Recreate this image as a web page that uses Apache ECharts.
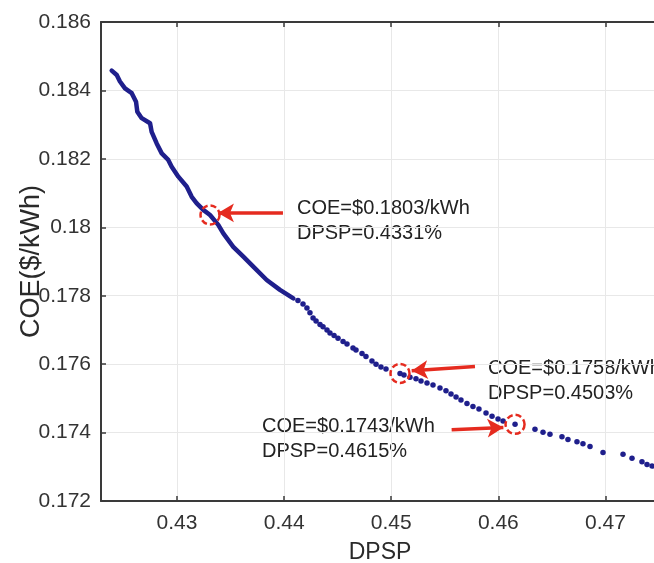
<!DOCTYPE html>
<html>
<head>
<meta charset="utf-8">
<script src="https://cdn.jsdelivr.net/npm/echarts@6/dist/echarts.min.js"></script>
<style>html,body{margin:0;padding:0;background:#fff}#c{width:654px;height:563px}</style>
</head>
<body>
<div id="c"></div>
<script>
// Dense (continuous-looking) part of the Pareto front
var denseDpsp = [0.42390,0.42437,0.42467,0.42514,0.42577,0.42617,0.42629,0.42670,0.42748,0.42763,0.42810,0.42857,0.42918,0.42950,0.43012,0.43090,0.43137,0.43184,0.43245,0.43308,0.43385,0.43432,0.43525,0.43619,0.43712,0.43837,0.43961,0.44086];
var denseCoe  = [0.18458,0.18445,0.18426,0.18406,0.18392,0.18367,0.18338,0.18319,0.18304,0.18279,0.18245,0.18216,0.18197,0.18177,0.18148,0.18119,0.18089,0.18070,0.18051,0.18036,0.18007,0.17982,0.17943,0.17914,0.17885,0.17846,0.17817,0.17792];
// Sparser dotted part
var dotDpsp = [0.44129,0.44176,0.44213,0.44241,0.44270,0.44298,0.44335,0.44363,0.44400,0.44428,0.44466,0.44503,0.44550,0.44587,0.44643,0.44671,0.44727,0.44764,0.44820,0.44858,0.44904,0.44951,0.45082,0.45119,0.45175,0.45231,0.45278,0.45334,0.45390,0.45455,0.45511,0.45558,0.45605,0.45651,0.45707,0.45763,0.45819,0.45885,0.45941,0.45997,0.46044,0.46156,0.46342,0.46417,0.46482,0.46594,0.46650,0.46734,0.46790,0.46856,0.46977,0.47164,0.47248,0.47341,0.47388,0.47435];
var dotCoe  = [0.17786,0.17776,0.17764,0.17750,0.17735,0.17726,0.17716,0.17709,0.17700,0.17691,0.17684,0.17676,0.17666,0.17659,0.17647,0.17641,0.17631,0.17622,0.17609,0.17600,0.17592,0.17586,0.17573,0.17568,0.17562,0.17557,0.17551,0.17545,0.17539,0.17530,0.17522,0.17513,0.17504,0.17495,0.17485,0.17476,0.17469,0.17457,0.17448,0.17440,0.17434,0.17424,0.17410,0.17401,0.17395,0.17388,0.17380,0.17373,0.17367,0.17359,0.17342,0.17337,0.17325,0.17315,0.17307,0.17302];
// Highlighted solutions
var markDpsp = [0.43308, 0.45082, 0.46156];
var markCoe  = [0.18036, 0.17573, 0.17424];
var markLabels = ['COE=$0.1803/kWh\nDPSP=0.4331%', 'COE=$0.1758/kWh\nDPSP=0.4503%', 'COE=$0.1743/kWh\nDPSP=0.4615%'];
// Arrows: tail and head points
var arrowTail = [[0.43989,0.18042],[0.45782,0.17593],[0.45564,0.17408]];
var arrowHead = [[0.43382,0.18042],[0.45191,0.17581],[0.46047,0.17415]];
var yTicks = [0.172,0.174,0.176,0.178,0.18,0.182,0.184,0.186];

var navy = '#1f1f8c', red = '#e52b1f';
var font = 'Liberation Sans, Arial, Helvetica, sans-serif';

var chart = echarts.init(document.getElementById('c'), null, {renderer:'canvas'});
var xCommon = {
  type:'value', min:0.4229, max:0.475,
  axisLine:{show:true, onZero:false, lineStyle:{color:'#3a3a3a', width:2}},
  axisTick:{show:true, inside:true, length:5, lineStyle:{color:'#3a3a3a', width:1.5}}
};
chart.setOption({
  animation:false,
  backgroundColor:'#fff',
  grid:{left:101, top:22, right:-5, bottom:62, containLabel:false, outerBoundsMode:'none'},
  xAxis:[
    Object.assign({}, xCommon, {
      position:'bottom',
      name:'DPSP', nameLocation:'middle', nameGap:40, nameMoveOverlap:false,
      nameTextStyle:{fontFamily:font, fontSize:23, color:'#2a2a2a'},
      axisLabel:{fontFamily:font, fontSize:21, color:'#333', margin:12, showMinLabel:false, showMaxLabel:false},
      splitLine:{show:true, lineStyle:{color:'#e8e8e8', width:1}}
    }),
    Object.assign({}, xCommon, {
      position:'top', axisLabel:{show:false}, splitLine:{show:false}
    })
  ],
  yAxis:{
    type:'value', min:yTicks[0], max:yTicks[yTicks.length-1], interval:0.002,
    name:'COE($/kWh)', nameLocation:'middle', nameGap:56, nameRotate:90, nameMoveOverlap:false,
    nameTextStyle:{fontFamily:font, fontSize:27, color:'#2a2a2a'},
    axisLine:{show:true, lineStyle:{color:'#3a3a3a', width:2}},
    axisTick:{show:true, inside:true, length:5, lineStyle:{color:'#3a3a3a', width:1.5}},
    axisLabel:{fontFamily:font, fontSize:21, color:'#333', margin:10},
    splitLine:{show:true, lineStyle:{color:'#e8e8e8', width:1}}
  },
  series:[
    {
      type:'line', data:denseDpsp.map(function(x,i){return [x,denseCoe[i]];}),
      showSymbol:false, symbol:'none', smooth:false,
      lineStyle:{color:navy, width:4.5, cap:'round', join:'round'}, z:3
    },
    {
      type:'scatter', data:dotDpsp.map(function(x,i){return [x,dotCoe[i]];}),
      symbolSize:5.5, itemStyle:{color:navy, opacity:1}, z:3
    },
    {
      type:'scatter', data:markDpsp.map(function(x,i){return [x,markCoe[i]];}),
      symbol:'circle', symbolSize:19,
      itemStyle:{color:'rgba(0,0,0,0)', borderColor:red, borderWidth:2.5, borderType:[6,3], opacity:1},
      z:4,
      markLine:{
        silent:true, symbol:['none','arrow'], symbolSize:[14,16], precision:6,
        label:{show:false},
        lineStyle:{color:red, width:3.5, type:'solid', opacity:1},
        emphasis:{disabled:true},
        data:arrowTail.map(function(t,i){return [{coord:t},{coord:arrowHead[i]}];})
      }
    }
  ],
  graphic:[
    {type:'text', left:297, top:196, style:{text:markLabels[0], font:'20px '+font, fill:'#222', lineHeight:25}},
    {type:'text', left:488, top:356, style:{text:markLabels[1], font:'20px '+font, fill:'#222', lineHeight:25}},
    {type:'text', left:262, top:414, style:{text:markLabels[2], font:'20px '+font, fill:'#222', lineHeight:25}}
  ]
});
</script>
</body>
</html>
